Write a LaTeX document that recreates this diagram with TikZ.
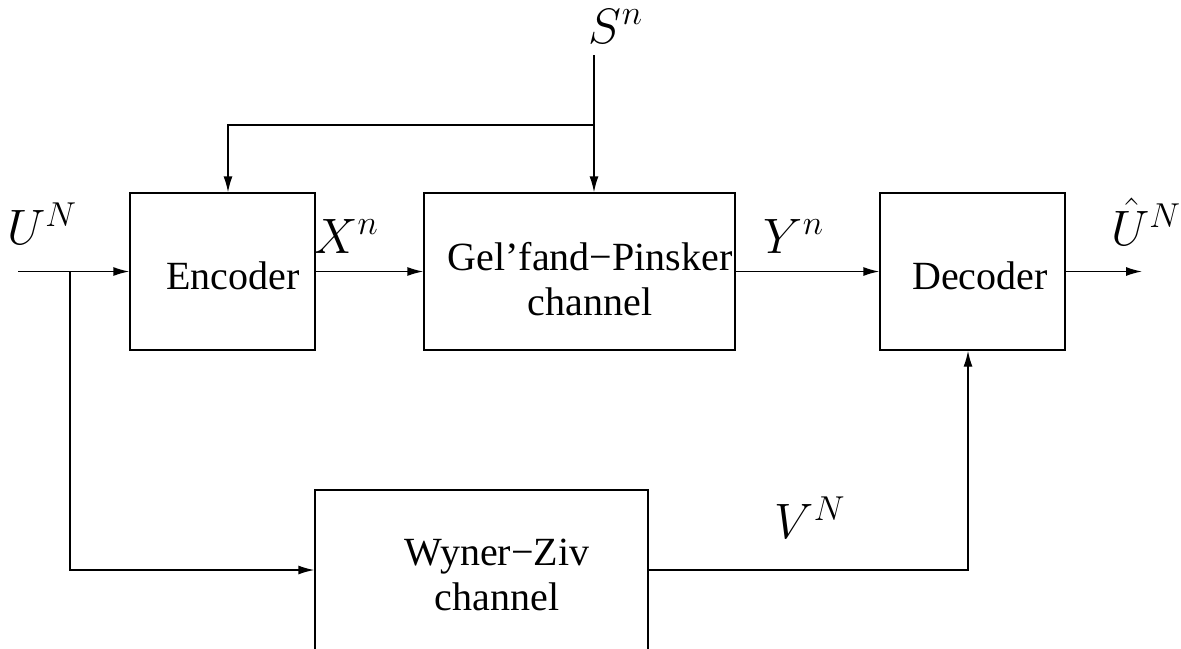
\documentclass[tikz,border=0pt]{standalone}
\usepackage{fontspec}
\setmainfont{Liberation Serif}
\usetikzlibrary{arrows.meta,calc}
\begin{document}
\begin{tikzpicture}[x=0.5pt,y=-0.5pt,
  blk/.style={draw,line width=0.7pt,inner sep=0pt,minimum height=78.5pt},
  txt/.style={font=\fontsize{20}{22.5}\selectfont,align=center,inner sep=0pt},
  mth/.style={font=\fontsize{23}{26}\selectfont,inner sep=0pt},
  ln/.style={line width=0.7pt},
  arr/.style={line width=0.7pt,-{Latex[length=8pt,width=4.5pt]}}]
\useasboundingbox (0,0) rectangle (1181,648);
\clip (0,0) rectangle (1181,648);
% boxes
\node[blk,minimum width=92.5pt] (enc) at (222.5,271.5) {};
\node[blk,minimum width=155.5pt] (gp) at (579.5,271.5) {};
\node[blk,minimum width=92.5pt] (dec) at (972.5,271.5) {};
\node[blk,minimum width=166.5pt,minimum height=80pt] (wz) at (481.5,570) {};
% box texts
\node[txt] (tenc) at (233,276) {Encoder};
\node[txt] (tgp) at (590,279) {Gel’fand−Pinsker\\channel};
\node[txt] (tdec) at (980,276) {Decoder};
\node[txt] (twz) at (497,575) {Wyner−Ziv\\channel};
% signal labels
\node[mth] (lu) at (42,224) {$U^N$};
\node[mth] (lx) at (346,236) {$X^n$};
\node[mth] (ly) at (794,236) {$Y^n$};
\node[mth] (luh) at (1146,222) {$\hat{U}^N$};
\node[mth] (ls) at (616,26) {$S^n$};
\node[mth] (lv) at (810,518) {$V^N$};
% coordinates
\coordinate (uin) at (18,271.5);
\coordinate (b1) at (70,271.5);
\coordinate (stop) at (594,55);
\coordinate (b2) at (594,125);
\coordinate (ecol) at (228,125);
\coordinate (dcol) at (968,570);
\coordinate (uout) at (1142,271.5);
% connectors
\draw[arr] (uin) -- (enc.west);
\draw[arr] (b1) |- (wz.west);
\draw[arr] (stop) -- (stop |- gp.north);
\draw[arr] (b2) -- (ecol) -- (ecol |- enc.north);
\draw[arr] (enc.east) -- (gp.west);
\draw[arr] (gp.east) -- (dec.west);
\draw[arr] (dec.east) -- (uout);
\draw[arr] (wz.east) -- (dcol) -- (dcol |- dec.south);
\end{tikzpicture}
\end{document}
